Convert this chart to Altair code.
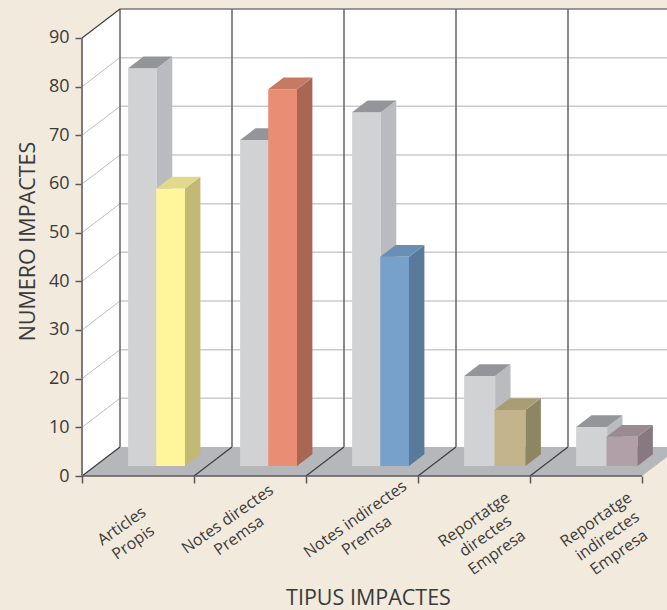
import altair as alt
import pandas as pd

# --- values ---
categories = ["Articles\nPropis", "Notes directes\nPremsa", "Notes indirectes\nPremsa",
              "Reportatge\ndirectes\nEmpresa", "Reportatge\nindirectes\nEmpresa"]
gray_values = [81.7, 67, 72.7, 18.5, 8]
color_values = [57, 77.4, 43, 11.5, 6]
front_colors = ["#FFF59B", "#E98E75", "#77A1CA", "#C3B48C", "#B1A0A8"]
side_colors = ["#C1B974", "#A96753", "#5A7A9C", "#8D8663", "#87797F"]
top_colors = ["#E1D98B", "#C67A64", "#6A8FB5", "#A99D76", "#9A8B92"]
label_nudge = [-0.145, -0.2, -0.06, 0.0, 0.09]
label_drop = [-10.3, -8.9, -8.9, -9.0, -9.0]
bar_widths = [0.257, 0.257, 0.257, 0.277, 0.277]
grid_values = [10, 20, 30, 40, 50, 60, 70, 80]

BG, INK, AXIS = "#F2EADD", "#3A3A3C", "#6D6E70"
FONT = "Open Sans"

# oblique projection: a unit of depth shifts x and y by these amounts (data units)
DX, DY = 38 / 112, 29 / 4.867
BAR_START = 33 / 112
D0, D1 = 0.345, 0.75
X_MAX, Y_MAX = 585 / 112, 468 / 4.867


def px(x, d):
    return x + d * DX


def py(y, d):
    return y + d * DY


def vface(rows, pid, x0, x1, ya0, yb0, ya1, yb1, color):
    rows.append(dict(id=pid, x=x0, y=ya0, y2=yb0, c=color))
    rows.append(dict(id=pid, x=x1, y=ya1, y2=yb1, c=color))


def hface(rows, pid, y0, y1, xa0, xb0, xa1, xb1, color):
    rows.append(dict(id=pid, y=y0, x=xa0, x2=xb0, c=color))
    rows.append(dict(id=pid, y=y1, x=xa1, x2=xb1, c=color))


def bar_faces(i, xs, w, value, front, side, top, tag):
    v, h = [], []
    xl, xr = i + xs, i + xs + w
    vface(v, f"{tag}{i}f", px(xl, D0), px(xr, D0), py(0, D0), py(value, D0), py(0, D0), py(value, D0), front)
    vface(v, f"{tag}{i}s", px(xr, D0), px(xr, D1), py(0, D0), py(value, D0), py(0, D1), py(value, D1), side)
    hface(h, f"{tag}{i}t", py(value, D0), py(value, D1), px(xl, D0), px(xr, D0), px(xl, D1), px(xr, D1), top)
    return v, h


# walls and floor
wall_v = []
vface(wall_v, "left", 0, DX, 0, 90, DY, 90 + DY, "#FFFFFF")
vface(wall_v, "back", DX, X_MAX, DY, 90 + DY, DY, 90 + DY, "#FFFFFF")
floor_h = []
hface(floor_h, "floor", 0, DY, 0, 5, DX, 5 + DX, "#B6B7BA")

# line work
segs = []


def seg(pid, x0, y0, x1, y1, color, width):
    segs.append(dict(id=pid, x=x0, y=y0, c=color, w=width, o=0))
    segs.append(dict(id=pid, x=x1, y=y1, c=color, w=width, o=1))


for g in grid_values:
    seg(f"gl{g}", 0, g, DX, g + DY, "#BCBEC0", 1)
    seg(f"gb{g}", DX, g + DY, X_MAX, g + DY, "#CBCBCD", 1.5)
for i in range(5):
    seg(f"bv{i}", i + DX, DY, i + DX, 90 + DY, AXIS, 1.6)
    seg(f"fd{i}", i, 0, i + DX, DY, "#3A3A3C", 1.1)
seg("top", DX, 90 + DY, X_MAX, 90 + DY, "#77787B", 1.6)
seg("topd", 0, 90, DX, 90 + DY, "#3A3A3C", 1.1)
seg("front", 0, 0, 5, 0, "#58595B", 1.6)
seg("left", 0, 0, 0, 90, AXIS, 1.8)

gv, gh, cv, ch = [], [], [], []
for i in range(5):
    w = bar_widths[i]
    a, b = bar_faces(i, BAR_START, w, gray_values[i], "#D1D2D4", "#B9BBBE", "#939598", "g")
    gv += a
    gh += b
    a, b = bar_faces(i, BAR_START + w - 0.006, w, color_values[i], front_colors[i], side_colors[i], top_colors[i], "c")
    cv += a
    ch += b

xs = alt.Scale(domain=[0, X_MAX], nice=False, zero=False)
ys = alt.Scale(domain=[0, Y_MAX], nice=False, zero=False)

x_axis = alt.Axis(values=[0, 1, 2, 3, 4, 5], labels=False, grid=False, domain=False, tickSize=7,
                  tickColor="#58595B", tickWidth=1.5, title="TIPUS IMPACTES", titleFont=FONT, titleFontSize=21.5,
                  titleFontWeight="normal", titleColor=INK, titleX=286, titleY=122, titleBaseline="middle")
y_axis = alt.Axis(values=[0, 10, 20, 30, 40, 50, 60, 70, 80, 90], grid=False, domain=False, tickSize=7,
                  tickColor="#58595B", tickWidth=1.5, labelFont=FONT, labelFontSize=18, labelColor=INK, labelPadding=6,
                  title="NUMERO IMPACTES", titleFont=FONT, titleFontSize=21.5, titleFontWeight="normal",
                  titleColor=INK, titleAngle=270, titleX=-54, titleY=233, titleBaseline="middle")


def vlayer(rows):
    return alt.Chart(pd.DataFrame(rows)).mark_area(orient="vertical", interpolate="linear").encode(
        x=alt.X("x:Q", scale=xs, axis=x_axis),
        y=alt.Y("y:Q", scale=ys, axis=y_axis),
        y2="y2:Q",
        color=alt.Color("c:N", scale=None),
        detail="id:N",
    )


def hlayer(rows):
    return alt.Chart(pd.DataFrame(rows)).mark_area(orient="horizontal", interpolate="linear").encode(
        y=alt.Y("y:Q", scale=ys, axis=y_axis),
        x=alt.X("x:Q", scale=xs, axis=x_axis),
        x2="x2:Q",
        color=alt.Color("c:N", scale=None),
        detail="id:N",
    )


lines = alt.Chart(pd.DataFrame(segs)).mark_line().encode(
    x=alt.X("x:Q", scale=xs, axis=x_axis),
    y=alt.Y("y:Q", scale=ys, axis=y_axis),
    color=alt.Color("c:N", scale=None),
    strokeWidth=alt.StrokeWidth("w:Q", scale=None),
    detail="id:N",
    order="o:Q",
)

label_df = pd.DataFrame({"label": categories, "x": [i + 0.5 + label_nudge[i] for i in range(5)], "y": label_drop})
labels = alt.Chart(label_df).mark_text(
    angle=325, align="center", baseline="middle", lineBreak="\n", font=FONT, fontSize=16, color=INK, lineHeight=20
).encode(
    x=alt.X("x:Q", scale=xs, axis=x_axis),
    y=alt.Y("y:Q", scale=ys, axis=y_axis),
    text="label:N",
)

chart = alt.layer(
    vlayer(wall_v), hlayer(floor_h), lines,
    vlayer(gv), hlayer(gh), vlayer(cv), hlayer(ch),
    labels,
).resolve_scale(color="independent").properties(
    width=585,
    height=468,
    background=BG,
    padding={"left": 82, "top": 8, "right": 0, "bottom": 134},
    autosize=alt.AutoSizeParams(type="none"),
).configure_view(stroke=None)

# The reference's background runs to the page edge, so the page's margin is
# removed and the page takes the chart's background colour.
import altair.utils.html as _h


class _PageStyle:
    def __init__(self, inner):
        self.inner = inner

    def render(self, *a, **k):
        return self.inner.render(*a, **k).replace(
            "<head>", "<head><style>html,body{margin:0;background:%s;overflow:hidden}</style>" % BG, 1)


_h.TEMPLATES["standard"] = _PageStyle(_h.TEMPLATES["standard"])

chart.save("out.html", embed_options={"renderer": "svg", "actions": False})
